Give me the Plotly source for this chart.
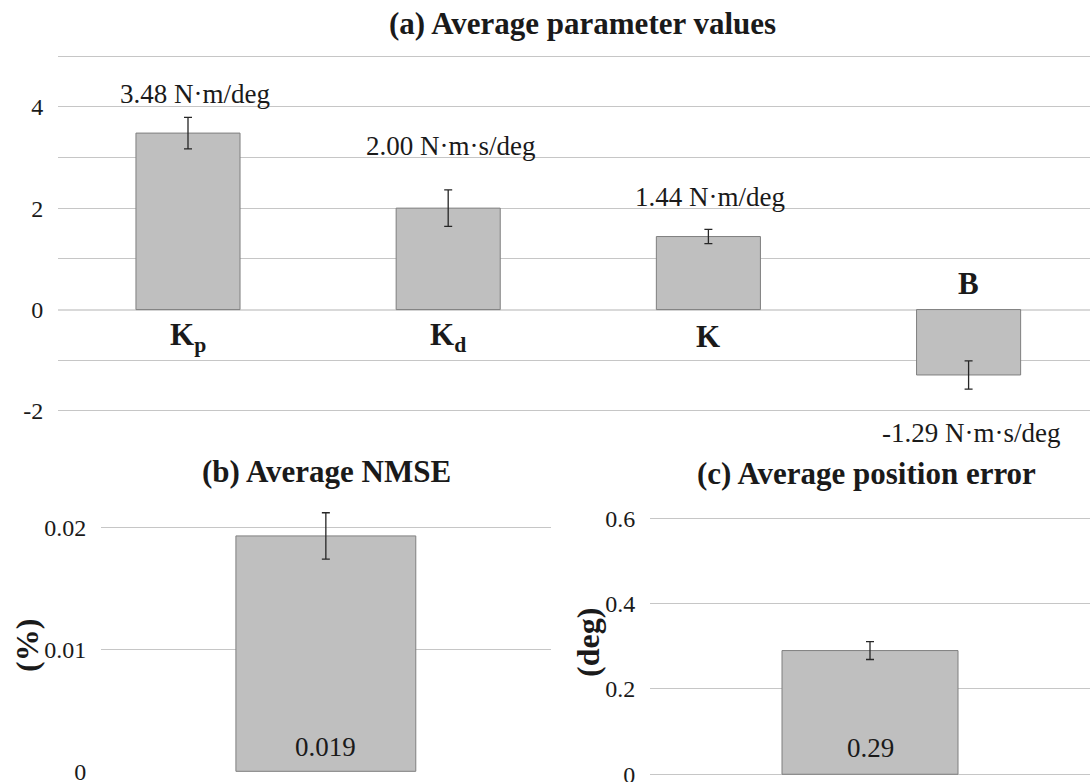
import plotly.graph_objects as go

# ---- data -------------------------------------------------------------
param_names = ["K<sub>p</sub>", "K<sub>d</sub>", "K", "B"]
param_values = [3.48, 2.00, 1.44, -1.29]
param_errors = [0.31, 0.36, 0.14, 0.28]
param_units = ["N·m/deg", "N·m·s/deg", "N·m/deg", "N·m·s/deg"]

nmse_value = [0.0193]
nmse_error = [0.0019]

pos_err_value = [0.29]
pos_err_error = [0.021]

top_tickvals = [-2, 0, 2, 4]
top_ticktext = ["-2", "0", "2", "4"]
nmse_tickvals = [0, 0.01, 0.02]
nmse_ticktext = ["0", "0.01", "0.02"]
pos_tickvals = [0, 0.2, 0.4, 0.6]
pos_ticktext = ["0", "0.2", "0.4", "0.6"]

# ---- layout helpers ---------------------------------------------------
W, H = 1090, 782
FONT = "'Times New Roman', 'Liberation Serif', Tinos, 'DejaVu Serif', serif"
TXT = "#1a1a1a"
BAR_FILL = "#bfbfbf"
BAR_LINE = "#7f7f7f"
GRID = "#c6c6c6"


def px(x):
    return x / W


def py(y):
    return 1 - y / H


fig = go.Figure()

bar_style = dict(marker=dict(color=BAR_FILL, line=dict(color=BAR_LINE, width=1)),
                 width=0.4, showlegend=False, hoverinfo="skip")
err_style = dict(type="data", color="#262626", thickness=1.3, width=4)

# (a) parameters
fig.add_trace(go.Bar(x=list(range(len(param_values))), y=param_values,
                     error_y=dict(array=param_errors, **err_style),
                     xaxis="x", yaxis="y", **bar_style))
# (b) NMSE
fig.add_trace(go.Bar(x=[0], y=nmse_value,
                     error_y=dict(array=nmse_error, **err_style),
                     xaxis="x2", yaxis="y2", **bar_style))
# (c) position error
fig.add_trace(go.Bar(x=[0], y=pos_err_value,
                     error_y=dict(array=pos_err_error, **err_style),
                     xaxis="x3", yaxis="y3", **bar_style))

tickfont = dict(family=FONT, size=24, color=TXT)
hidden_x = dict(showgrid=False, zeroline=False, showticklabels=False,
                showline=False, ticks="", fixedrange=True, automargin=False)
y_common = dict(showgrid=True, gridcolor=GRID, gridwidth=1, showline=False,
                ticks="outside", ticklen=9, tickcolor="rgba(0,0,0,0)",
                tickfont=tickfont, tickmode="array", fixedrange=True,
                automargin=False, ticklabeloverflow="allow")

fig.update_layout(
    template="none",
    width=W, height=H,
    margin=dict(l=0, r=0, t=0, b=0, pad=0, autoexpand=False),
    paper_bgcolor="white", plot_bgcolor="white",
    font=dict(family=FONT, color=TXT),
    xaxis=dict(domain=[px(58), px(1090)], range=[-0.4996, 3.4666], anchor="y", **hidden_x),
    yaxis=dict(domain=[py(412), py(55)], range=[-2.02, 5.02], anchor="x",
               tickvals=top_tickvals, ticktext=top_ticktext,
               minor=dict(tickvals=[-1, 1, 3, 5], showgrid=True, gridcolor=GRID,
                          gridwidth=1, ticks=""),
               zeroline=True, zerolinecolor="#d9d9d9", zerolinewidth=2, **y_common),
    xaxis2=dict(domain=[px(101), px(550.7)], range=[-0.5, 0.5], anchor="y2", **hidden_x),
    yaxis2=dict(domain=[py(772.3), py(503)], range=[-0.00008, 0.022], anchor="x2",
                tickvals=nmse_tickvals, ticktext=nmse_ticktext,
                zeroline=False, **y_common),
    xaxis3=dict(domain=[px(650), px(1090)], range=[-0.5, 0.5], anchor="y3", **hidden_x),
    yaxis3=dict(domain=[py(775.3), py(517.3)], range=[-0.0024, 0.6024], anchor="x3",
                tickvals=pos_tickvals, ticktext=pos_ticktext,
                zeroline=False, **y_common),
)

annotations = []

# panel titles
title_font = dict(family=FONT, size=31, color=TXT)
for text, x, y in [("<b>(a) Average parameter values</b>", 583, 23),
                   ("<b>(b) Average NMSE</b>", 326, 472),
                   ("<b>(c) Average position error</b>", 866, 473)]:
    annotations.append(dict(text=text, x=px(x), y=py(y), xref="paper", yref="paper",
                            xanchor="center", yanchor="middle", showarrow=False,
                            font=title_font))

# axis unit titles
for text, x, y in [("<b>(%)</b>", 27, 646), ("<b>(deg)</b>", 588, 643)]:
    annotations.append(dict(text=text, x=px(x), y=py(y), xref="paper", yref="paper",
                            xanchor="center", yanchor="middle", textangle=-90,
                            showarrow=False, font=dict(family=FONT, size=32, color=TXT)))

# value labels for the parameter bars (the last one sits below the axis floor)
value_label_y = [4.25, 3.22, 2.22, -2.0]
value_label_dy = [0, 0, 0, -22]
value_label_dx = [7, 2, 2, 2]
for i, (v, unit) in enumerate(zip(param_values, param_units)):
    annotations.append(dict(text=f"{v:.2f} {unit}", x=i, y=value_label_y[i],
                            xref="x", yref="y", xshift=value_label_dx[i],
                            yshift=value_label_dy[i],
                            xanchor="center", yanchor="middle", showarrow=False,
                            font=dict(family=FONT, size=27, color=TXT)))

# category names near the zero line
name_label_y = [-0.54, -0.54, -0.54, 0.51]
for i, name in enumerate(param_names):
    annotations.append(dict(text=f"<b>{name}</b>", x=i, y=name_label_y[i],
                            xref="x", yref="y", xanchor="center", yanchor="middle",
                            showarrow=False, font=dict(family=FONT, size=31, color=TXT)))

# value labels at the base of the bottom bars
annotations.append(dict(text=f"{nmse_value[0]:.3f}", x=0, y=0, xref="x2", yref="y2",
                        yshift=24, xanchor="center", yanchor="middle", showarrow=False,
                        font=dict(family=FONT, size=27, color=TXT)))
annotations.append(dict(text=f"{pos_err_value[0]:.2f}", x=0, y=0, xref="x3", yref="y3",
                        yshift=26, xanchor="center", yanchor="middle", showarrow=False,
                        font=dict(family=FONT, size=27, color=TXT)))

fig.update_layout(annotations=annotations)

fig.write_html("out.html")
